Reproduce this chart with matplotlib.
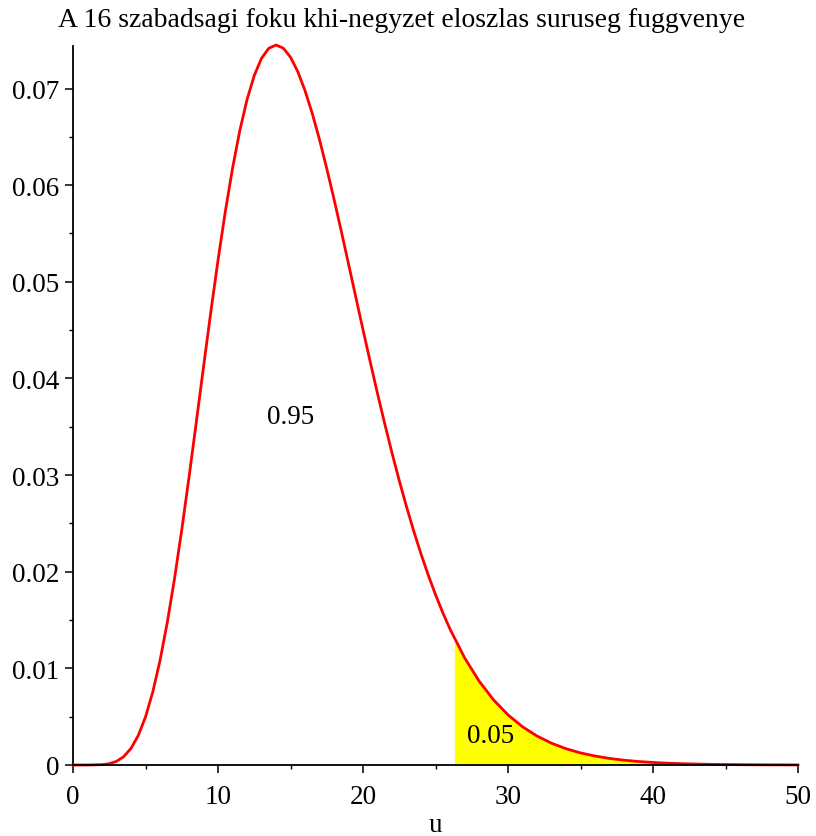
import numpy as np
import matplotlib
matplotlib.use("Agg")
import matplotlib.pyplot as plt

plt.rcParams['font.family'] = ['Liberation Serif', 'DejaVu Serif']

# values
u = [0, 1, 2, 2.5, 3, 3.5, 4, 4.5, 5, 5.5, 6, 6.5, 7, 7.5, 8, 8.5, 9, 9.5, 10,
     10.5, 11, 11.5, 12, 12.5, 13, 13.5, 14, 14.5, 15, 15.5, 16, 16.5, 17, 17.5,
     18, 18.5, 19, 19.5, 20, 20.5, 21, 21.5, 22, 22.5, 23, 23.5, 24, 24.5, 25,
     25.5, 26, 27, 28, 29, 30, 31, 32, 33, 34, 35, 36, 37, 38, 39,
     40, 41, 42, 43, 44, 45, 46, 47, 48, 49, 50]
density = [0.0, 0.0000005, 0.0000365, 0.000136, 0.000378, 0.000867, 0.00172, 0.003052,
           0.00497, 0.007543, 0.01080, 0.01473, 0.01927, 0.02433,
           0.02977, 0.03544, 0.04118, 0.04683, 0.05222, 0.05723, 0.06172, 0.06562,
           0.06884, 0.07135, 0.07312, 0.07416, 0.07450, 0.07418, 0.07324, 0.07176,
           0.06979, 0.06742, 0.06471, 0.06173, 0.05856, 0.05525, 0.05186, 0.04844,
           0.04504, 0.04170, 0.03844, 0.03530, 0.03229, 0.02943, 0.02673, 0.02420,
           0.02184, 0.01965, 0.01763, 0.01577, 0.01407, 0.01111, 0.008696, 0.006743,
           0.005185, 0.003956, 0.002997, 0.002255, 0.001685, 0.001252, 0.000925,
           0.000680, 0.000497, 0.000361, 0.000262, 0.000189, 0.000135, 0.000097,
           0.000069, 0.000049, 0.000035, 0.000024, 0.000017, 0.000012, 0.0000084]
critical = 26.3
title = "A 16 szabadsagi foku khi-negyzet eloszlas suruseg fuggvenye"
inner_label, inner_pos = "0.95", (15.0, 0.0361)
tail_label, tail_pos = "0.05", (28.8, 0.0031)
xticks = [0, 10, 20, 30, 40, 50]
yticks = [0, 0.01, 0.02, 0.03, 0.04, 0.05, 0.06, 0.07]
ytick_labels = ["0", "0.01", "0.02", "0.03", "0.04", "0.05", "0.06", "0.07"]

fig = plt.figure(figsize=(8.16, 8.37), dpi=100)
ax = fig.add_axes([73/816, 71/837, 725/816, 719/837])

u_arr = np.array(u, dtype=float)
d_arr = np.array(density)
uf = np.concatenate([[critical], u_arr[u_arr > critical]])
df = np.interp(uf, u_arr, d_arr)
ax.fill_between(uf, 0, df, color='#ffff00', linewidth=0, zorder=1)
ax.plot(u_arr, d_arr, color='#ff0000', lw=2.0, zorder=3, solid_joinstyle='round',
        clip_on=False)

ax.set_xlim(0, 50)
ax.set_ylim(0, 0.0744)
ax.spines['top'].set_visible(False)
ax.spines['right'].set_visible(False)
ax.spines['left'].set_linewidth(1.3)
ax.spines['bottom'].set_linewidth(1.3)
ax.spines['bottom'].set_zorder(4)

ax.set_xticks(xticks)
ax.set_xticklabels([str(t) for t in xticks])
ax.set_yticks(yticks)
ax.set_yticklabels(ytick_labels)
ax.set_xticks([5, 15, 25, 35, 45], minor=True)
ax.set_yticks([0.005, 0.015, 0.025, 0.035, 0.045, 0.055, 0.065], minor=True)
ax.tick_params(which='major', length=6, width=1.1, labelsize=19.5, direction='out')
ax.tick_params(which='minor', length=3, width=1.0, direction='out')
ax.tick_params(axis='x', pad=8)
ax.tick_params(axis='y', pad=4)

fig.text(435/816, 5/837, "u", fontsize=19.5, ha='center', va='baseline')
ax.text(*inner_pos, inner_label, fontsize=19.5, ha='center', va='center')
ax.text(*tail_pos, tail_label, fontsize=19.5, ha='center', va='center', zorder=5)

fig.text(0.492, 0.976, title, fontsize=20, ha='center', va='center')

fig.savefig("out.png", dpi=100)
